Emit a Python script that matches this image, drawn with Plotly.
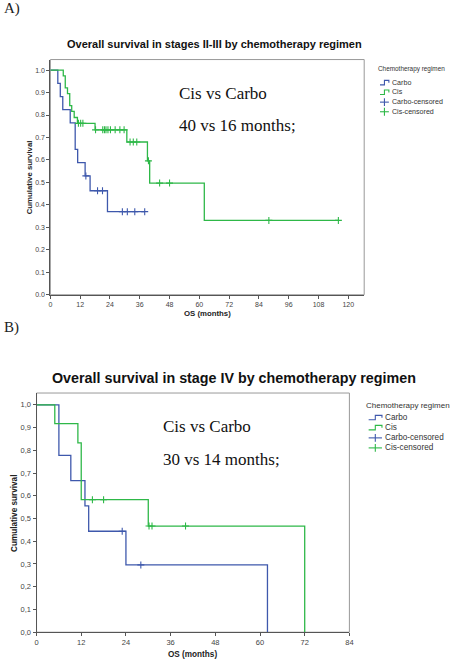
import numpy as np
import plotly.graph_objects as go

# ---- data ----
# A) stages II-III
carbo_a_times = [0, 3, 4, 5, 8, 10, 11, 14, 16, 23]
carbo_a_surv = [1.0, 0.941, 0.882, 0.824, 0.765, 0.647, 0.588, 0.529, 0.463, 0.370]
carbo_a_end = 38
carbo_a_censor = [14.3, 19, 21, 29, 31, 34, 38]

cis_a_times = [0, 5.2, 6, 6.9, 7.8, 8.6, 9.6, 10.9, 18, 30.8, 39.1, 40, 62]
cis_a_surv = [1.0, 0.974, 0.921, 0.895, 0.842, 0.816, 0.789, 0.763, 0.734, 0.680, 0.596, 0.497, 0.331]
cis_a_end = 116
cis_a_censor = [11.3, 12.2, 13.1, 18.2, 21.1, 21.8, 22.4, 23.2, 24.2, 26.1, 28.0, 29.7,
                32.1, 33.4, 34.8, 39.5, 44, 48, 88, 116]

# B) stage IV
carbo_b_times = [0, 6, 9.2, 13, 14, 24, 62]
carbo_b_surv = [1.0, 0.778, 0.667, 0.556, 0.444, 0.296, 0.0]
carbo_b_end = 62
carbo_b_censor = [23, 28]

cis_b_times = [0, 4.9, 11.1, 12, 30, 72]
cis_b_surv = [1.0, 0.917, 0.833, 0.583, 0.467, 0.0]
cis_b_end = 72
cis_b_censor = [15, 18, 30.2, 31, 40]

x_ticks_a = [0, 12, 24, 36, 48, 60, 72, 84, 96, 108, 120]
x_ticks_b = [0, 12, 24, 36, 48, 60, 72, 84]
y_ticks = [0.0, 0.1, 0.2, 0.3, 0.4, 0.5, 0.6, 0.7, 0.8, 0.9, 1.0]
y_ticktext_b = ["0,0", "0,1", "0,2", "0,3", "0,4", "0,5", "0,6", "0,7", "0,8", "0,9", "1,0"]
legend_names = ["Carbo", "Cis", "Carbo-censored", "Cis-censored"]

BLUE = "#3E58AC"
GREEN = "#2EB848"
W, H = 459, 664
SANS = "Liberation Sans, Arial, sans-serif"
SERIF = "Liberation Serif, Times New Roman, serif"


def step_xy(times, surv, end):
    xs, ys = list(times), list(surv)
    if end > xs[-1]:
        xs.append(end)
        ys.append(surv[-1])
    return xs, ys


def censor_y(times, surv, cens):
    idx = np.searchsorted(times, cens, side="right") - 1
    return [surv[i] for i in idx]


def px_x(p):
    return p / W


def px_y(p):
    return 1 - p / H


fig = go.Figure()

panels = [
    ("x", "y", carbo_a_times, carbo_a_surv, carbo_a_end, carbo_a_censor,
     cis_a_times, cis_a_surv, cis_a_end, cis_a_censor),
    ("x2", "y2", carbo_b_times, carbo_b_surv, carbo_b_end, carbo_b_censor,
     cis_b_times, cis_b_surv, cis_b_end, cis_b_censor),
]

for xa, ya, ct, cs, ce, cc, gt, gs, ge, gc in panels:
    x, y = step_xy(ct, cs, ce)
    fig.add_trace(go.Scatter(x=x, y=y, mode="lines", line=dict(color=BLUE, width=1.3, shape="hv"),
                             name="Carbo", xaxis=xa, yaxis=ya))
    x, y = step_xy(gt, gs, ge)
    fig.add_trace(go.Scatter(x=x, y=y, mode="lines", line=dict(color=GREEN, width=1.3, shape="hv"),
                             name="Cis", xaxis=xa, yaxis=ya))
    fig.add_trace(go.Scatter(x=cc, y=censor_y(ct, cs, cc), mode="markers",
                             marker=dict(symbol="cross-thin", size=5, line=dict(color=BLUE, width=1.1)),
                             name="Carbo-censored", xaxis=xa, yaxis=ya))
    fig.add_trace(go.Scatter(x=gc, y=censor_y(gt, gs, gc), mode="markers",
                             marker=dict(symbol="cross-thin", size=5, line=dict(color=GREEN, width=1.1)),
                             name="Cis-censored", xaxis=xa, yaxis=ya))

axis_common = dict(showgrid=False, zeroline=False, showline=True, mirror=False,
                   linecolor="#555", linewidth=1, ticks="outside", ticklen=3,
                   tickcolor="#555")

fig.update_layout(
    width=W, height=H, autosize=False,
    margin=dict(l=0, r=0, t=0, b=0),
    paper_bgcolor="white", plot_bgcolor="white",
    showlegend=False,
    xaxis=dict(domain=[px_x(49), px_x(367)], range=[0, 126.4], tickvals=x_ticks_a,
               tickfont=dict(family=SANS, size=7, color="#444"), anchor="y", **axis_common),
    yaxis=dict(domain=[px_y(297), px_y(60)], range=[0, 1.047], tickvals=y_ticks, tickformat=".1f",
               tickfont=dict(family=SANS, size=7, color="#444"), anchor="x", **axis_common),
    xaxis2=dict(domain=[px_x(35), px_x(352)], range=[0, 84], tickvals=x_ticks_b,
                tickfont=dict(family=SANS, size=7.5, color="#444"), anchor="y2", **axis_common),
    yaxis2=dict(domain=[px_y(637), px_y(396)], range=[0, 1.052], tickvals=y_ticks,
                ticktext=y_ticktext_b,
                tickfont=dict(family=SANS, size=7.5, color="#444"), anchor="x2", **axis_common),
)

# plot frames
shapes = []
for xa, ya in [("x", "y"), ("x2", "y2")]:
    shapes.append(dict(type="rect", xref=xa + " domain", yref=ya + " domain",
                       x0=0, x1=1, y0=0, y1=1, line=dict(color="#999", width=1), layer="below"))


def ann(text, x, y, size, family=SANS, color="#222", anchor="left", angle=0):
    return dict(text=text, x=px_x(x), y=px_y(y), xref="paper", yref="paper", showarrow=False,
                xanchor=anchor, yanchor="middle", textangle=angle,
                font=dict(family=family, size=size, color=color))


annotations = [
    ann("A)", 0, 9, 15, SERIF),
    ann("B)", 0, 330, 15, SERIF),
    ann("<b>Overall survival in stages II-III by chemotherapy regimen</b>", 215, 44, 11,
        color="#111", anchor="center"),
    ann("<b>Overall survival in stage IV by chemotherapy regimen</b>", 235, 381, 14.3,
        color="#111", anchor="center"),
    ann("Cis vs Carbo", 177, 94, 17, SERIF, "#111"),
    ann("40 vs 16 months;", 177, 126, 17, SERIF, "#111"),
    ann("Cis vs Carbo", 161, 430, 17, SERIF, "#111"),
    ann("30 vs 14 months;", 161, 463, 17, SERIF, "#111"),
    ann("<b>OS (months)</b>", 208, 316, 7.8, anchor="center"),
    ann("<b>Cumulative survival</b>", 28, 179, 7.8, anchor="center", angle=-90),
    ann("<b>OS (months)</b>", 193.5, 659, 8.2, anchor="center"),
    ann("<b>Cumulative survival</b>", 12, 517, 8.2, anchor="center", angle=-90),
]

# legends drawn as small glyphs + text (SPSS style)
legend_specs = [
    # title x, title y, title size, glyph x0, glyph x1, text x, first row y, row gap, text size
    (379, 70, 6.4, 383, 392, 393.5, 83.5, 9.7, 7.1),
    (366.5, 408.7, 8.0, 371.5, 385, 386.5, 421, 10.1, 8.2),
]
colors = [BLUE, GREEN, BLUE, GREEN]
for tx, ty, tsize, g0, g1, textx, row0, gap, isize in legend_specs:
    annotations.append(ann("Chemotherapy regimen", tx, ty, tsize, color="#333"))
    for i, name in enumerate(legend_names):
        yc = row0 + i * gap
        annotations.append(ann(name, textx, yc, isize, color="#333"))
        c = colors[i]
        gm = (g0 + g1) / 2
        if i < 2:
            path = "M {} {} L {} {} L {} {} L {} {} L {} {}".format(
                px_x(g0), px_y(yc + 2), px_x(gm), px_y(yc + 2), px_x(gm), px_y(yc - 2.5),
                px_x(g1), px_y(yc - 2.5), px_x(g1), px_y(yc))
            shapes.append(dict(type="path", xref="paper", yref="paper", path=path,
                               line=dict(color=c, width=1.1)))
        else:
            shapes.append(dict(type="line", xref="paper", yref="paper",
                               x0=px_x(g0), x1=px_x(g1), y0=px_y(yc), y1=px_y(yc),
                               line=dict(color=c, width=1.1)))
            shapes.append(dict(type="line", xref="paper", yref="paper",
                               x0=px_x(gm), x1=px_x(gm), y0=px_y(yc - 4), y1=px_y(yc + 4),
                               line=dict(color=c, width=1.1)))

fig.update_layout(annotations=annotations, shapes=shapes)

# the default page body has an 8px margin; drop it so the figure fills the window
fig.write_html("out.html", config={"displayModeBar": False},
               post_script="document.body.style.margin='0px';")
